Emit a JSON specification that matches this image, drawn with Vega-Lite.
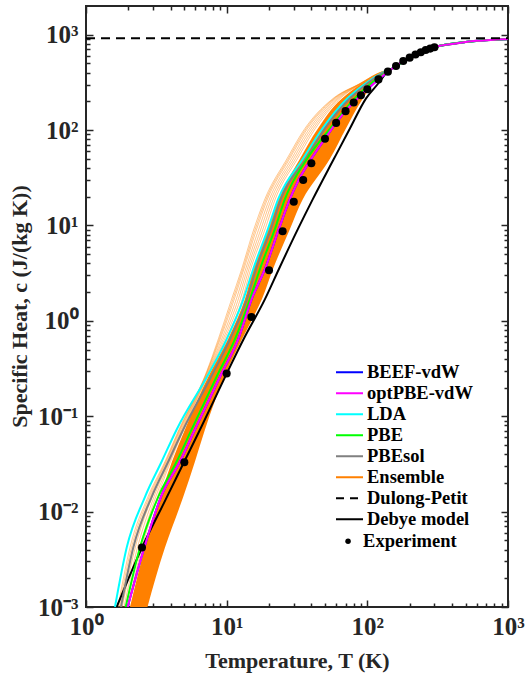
{
  "$schema": "https://vega.github.io/schema/vega-lite/v6.json",
  "width": 422,
  "height": 601,
  "autosize": "none",
  "padding": {"left": 86, "top": 6, "right": 18, "bottom": 74},
  "background": "white",
  "config": {
    "view": {"stroke": "#262626", "strokeWidth": 2},
    "axis": {
      "domain": false, "grid": false, "tickColor": "#262626", "tickWidth": 1.5,
      "labelFont": "Liberation Serif", "labelFontWeight": "bold", "labelFontSize": 25, "labelColor": "#262626",
      "titleFont": "Liberation Serif", "titleFontWeight": "bold", "titleFontSize": 22, "titleColor": "#262626",
      "labelFlush": false
    },
    "legend": {
      "labelFont": "Liberation Serif", "labelFontWeight": "bold", "labelFontSize": 18.5, "labelColor": "#000000", "labelLimit": 300,
      "clipHeight": 20.4, "rowPadding": 0, "padding": 0
    }
  },
  "datasets": {
    "thin": [
      {"line":0,"T":1.688,"c":0.001},{"line":0,"T":2.055,"c":0.0042},{"line":0,"T":2.759,"c":0.0143},{"line":0,"T":3.643,"c":0.0335},{"line":0,"T":4.581,"c":0.0727},{"line":0,"T":7.128,"c":0.282},{"line":0,"T":8.716,"c":0.642},{"line":0,"T":10.85,"c":1.69},{"line":0,"T":12.79,"c":3.5},{"line":0,"T":15.63,"c":9.2},{"line":0,"T":18.72,"c":19},{"line":0,"T":26.83,"c":50},{"line":0,"T":36.02,"c":104},{"line":0,"T":56.96,"c":214},{"line":0,"T":88.6,"c":308},{"line":0,"T":119,"c":393},{"line":0,"T":150,"c":440},
      {"line":1,"T":1.721,"c":0.001},{"line":1,"T":2.106,"c":0.0042},{"line":1,"T":2.814,"c":0.0143},{"line":1,"T":3.685,"c":0.0335},{"line":1,"T":4.626,"c":0.0727},{"line":1,"T":7.175,"c":0.282},{"line":1,"T":8.855,"c":0.642},{"line":1,"T":11.09,"c":1.69},{"line":1,"T":13.03,"c":3.5},{"line":1,"T":15.99,"c":9.2},{"line":1,"T":19.12,"c":19},{"line":1,"T":27.41,"c":50},{"line":1,"T":36.79,"c":104},{"line":1,"T":57.8,"c":214},{"line":1,"T":89.0,"c":308},{"line":1,"T":119.5,"c":393},{"line":1,"T":150,"c":440},
      {"line":2,"T":1.756,"c":0.001},{"line":2,"T":2.158,"c":0.0042},{"line":2,"T":2.87,"c":0.0143},{"line":2,"T":3.728,"c":0.0335},{"line":2,"T":4.672,"c":0.0727},{"line":2,"T":7.222,"c":0.282},{"line":2,"T":8.997,"c":0.642},{"line":2,"T":11.33,"c":1.69},{"line":2,"T":13.27,"c":3.5},{"line":2,"T":16.36,"c":9.2},{"line":2,"T":19.53,"c":19},{"line":2,"T":28.0,"c":50},{"line":2,"T":37.59,"c":104},{"line":2,"T":58.66,"c":214},{"line":2,"T":89.4,"c":308},{"line":2,"T":120,"c":393},{"line":2,"T":150,"c":440},
      {"line":3,"T":1.808,"c":0.001},{"line":3,"T":2.239,"c":0.0042},{"line":3,"T":2.955,"c":0.0143},{"line":3,"T":3.792,"c":0.0335},{"line":3,"T":4.741,"c":0.0727},{"line":3,"T":7.293,"c":0.282},{"line":3,"T":9.214,"c":0.642},{"line":3,"T":11.71,"c":1.69},{"line":3,"T":13.65,"c":3.5},{"line":3,"T":16.93,"c":9.2},{"line":3,"T":20.17,"c":19},{"line":3,"T":28.9,"c":50},{"line":3,"T":38.8,"c":104},{"line":3,"T":59.97,"c":214},{"line":3,"T":90.0,"c":308},{"line":3,"T":120.7,"c":393},{"line":3,"T":150,"c":440},
      {"line":4,"T":1.863,"c":0.001},{"line":4,"T":2.323,"c":0.0042},{"line":4,"T":3.044,"c":0.0143},{"line":4,"T":3.858,"c":0.0335},{"line":4,"T":4.811,"c":0.0727},{"line":4,"T":7.365,"c":0.282},{"line":4,"T":9.436,"c":0.642},{"line":4,"T":12.1,"c":1.69},{"line":4,"T":14.03,"c":3.5},{"line":4,"T":17.53,"c":9.2},{"line":4,"T":20.82,"c":19},{"line":4,"T":29.84,"c":50},{"line":4,"T":40.06,"c":104},{"line":4,"T":61.32,"c":214},{"line":4,"T":90.5,"c":308},{"line":4,"T":121.3,"c":393},{"line":4,"T":150,"c":440},
      {"line":5,"T":1.918,"c":0.001},{"line":5,"T":2.411,"c":0.0042},{"line":5,"T":3.134,"c":0.0143},{"line":5,"T":3.924,"c":0.0335},{"line":5,"T":4.883,"c":0.0727},{"line":5,"T":7.438,"c":0.282},{"line":5,"T":9.662,"c":0.642},{"line":5,"T":12.5,"c":1.69},{"line":5,"T":14.42,"c":3.5},{"line":5,"T":18.14,"c":9.2},{"line":5,"T":21.5,"c":19},{"line":5,"T":30.81,"c":50},{"line":5,"T":41.37,"c":104},{"line":5,"T":62.68,"c":214},{"line":5,"T":91.0,"c":308},{"line":5,"T":122,"c":393},{"line":5,"T":150,"c":440},
      {"line":6,"T":1.975,"c":0.001},{"line":6,"T":2.501,"c":0.0042},{"line":6,"T":3.228,"c":0.0143},{"line":6,"T":3.993,"c":0.0335},{"line":6,"T":4.955,"c":0.0727},{"line":6,"T":7.511,"c":0.282},{"line":6,"T":9.894,"c":0.642},{"line":6,"T":12.92,"c":1.69},{"line":6,"T":14.83,"c":3.5},{"line":6,"T":18.77,"c":9.2},{"line":6,"T":22.19,"c":19},{"line":6,"T":31.81,"c":50},{"line":6,"T":42.7,"c":104},{"line":6,"T":64.09,"c":214},{"line":6,"T":91.4,"c":308},{"line":6,"T":122.5,"c":393},{"line":6,"T":150,"c":440}
    ],
    "band": [
      {"c":0.001,"Tl":2.055,"Tr":2.736},{"c":0.0042,"Tl":2.627,"Tr":3.643},{"c":0.0143,"Tl":3.357,"Tr":4.915},{"c":0.0335,"Tl":4.086,"Tr":5.953},{"c":0.0727,"Tl":5.053,"Tr":7.013},{"c":0.282,"Tl":7.607,"Tr":9.886},{"c":0.642,"Tl":10.21,"Tr":12.85},{"c":1.69,"Tl":13.49,"Tr":17.82},{"c":3.5,"Tl":15.38,"Tr":21.34},{"c":9.2,"Tl":19.66,"Tr":28.18},{"c":19,"Tl":23.15,"Tr":34.85},{"c":50,"Tl":33.19,"Tr":54.24},{"c":104,"Tl":44.56,"Tr":70.45},{"c":214,"Tl":65.99,"Tr":93.05},{"c":308,"Tl":91.54,"Tr":111.4},{"c":393,"Tl":122.9,"Tr":131.2},{"c":440,"Tl":148,"Tr":152}
    ],
    "curves": [
      {"series":"Debye model","T":1.652,"c":0.001},{"series":"Debye model","T":2.5,"c":0.0042},{"series":"Debye model","T":3.6,"c":0.0125},{"series":"Debye model","T":5,"c":0.0335},{"series":"Debye model","T":6.6,"c":0.077},{"series":"Debye model","T":10.0,"c":0.28},{"series":"Debye model","T":13.1,"c":0.63},{"series":"Debye model","T":18.72,"c":1.69},{"series":"Debye model","T":23.53,"c":3.5},{"series":"Debye model","T":32.13,"c":9.2},{"series":"Debye model","T":41.06,"c":19},{"series":"Debye model","T":57.88,"c":50},{"series":"Debye model","T":75.19,"c":104},{"series":"Debye model","T":97.7,"c":214},{"series":"Debye model","T":119.5,"c":308},{"series":"Debye model","T":135.6,"c":393},{"series":"Debye model","T":160,"c":468},{"series":"Debye model","T":200,"c":575},{"series":"Debye model","T":300,"c":740},{"series":"Debye model","T":400,"c":800},{"series":"Debye model","T":500,"c":838},{"series":"Debye model","T":600,"c":862},{"series":"Debye model","T":700,"c":877},{"series":"Debye model","T":800,"c":888},{"series":"Debye model","T":1000,"c":901},

      {"series":"BEEF-vdW","T":1.979,"c":0.001},{"series":"BEEF-vdW","T":2.596,"c":0.0042},{"series":"BEEF-vdW","T":3.412,"c":0.0143},{"series":"BEEF-vdW","T":4.658,"c":0.0335},{"series":"BEEF-vdW","T":5.953,"c":0.0727},{"series":"BEEF-vdW","T":9.215,"c":0.282},{"series":"BEEF-vdW","T":12.09,"c":0.642},{"series":"BEEF-vdW","T":15.06,"c":1.69},{"series":"BEEF-vdW","T":18.72,"c":3.5},{"series":"BEEF-vdW","T":23.53,"c":9.2},{"series":"BEEF-vdW","T":28.18,"c":19},{"series":"BEEF-vdW","T":32.5,"c":30},{"series":"BEEF-vdW","T":38.2,"c":45},{"series":"BEEF-vdW","T":50,"c":81},{"series":"BEEF-vdW","T":60,"c":119},{"series":"BEEF-vdW","T":70,"c":158},{"series":"BEEF-vdW","T":80,"c":195},{"series":"BEEF-vdW","T":90,"c":232},{"series":"BEEF-vdW","T":100,"c":268},{"series":"BEEF-vdW","T":120,"c":340},{"series":"BEEF-vdW","T":140,"c":410},{"series":"BEEF-vdW","T":160,"c":470},{"series":"BEEF-vdW","T":200,"c":575},{"series":"BEEF-vdW","T":300,"c":740},{"series":"BEEF-vdW","T":500,"c":838},{"series":"BEEF-vdW","T":1000,"c":901},

      {"series":"optPBE-vdW","T":1.979,"c":0.001},{"series":"optPBE-vdW","T":2.596,"c":0.0042},{"series":"optPBE-vdW","T":3.412,"c":0.0143},{"series":"optPBE-vdW","T":4.658,"c":0.0335},{"series":"optPBE-vdW","T":5.953,"c":0.0727},{"series":"optPBE-vdW","T":9.215,"c":0.282},{"series":"optPBE-vdW","T":12.09,"c":0.642},{"series":"optPBE-vdW","T":15.06,"c":1.69},{"series":"optPBE-vdW","T":18.72,"c":3.5},{"series":"optPBE-vdW","T":23.53,"c":9.2},{"series":"optPBE-vdW","T":28.18,"c":19},{"series":"optPBE-vdW","T":32.5,"c":30},{"series":"optPBE-vdW","T":38.2,"c":45},{"series":"optPBE-vdW","T":50,"c":81},{"series":"optPBE-vdW","T":60,"c":119},{"series":"optPBE-vdW","T":70,"c":158},{"series":"optPBE-vdW","T":80,"c":195},{"series":"optPBE-vdW","T":90,"c":232},{"series":"optPBE-vdW","T":100,"c":268},{"series":"optPBE-vdW","T":120,"c":340},{"series":"optPBE-vdW","T":140,"c":410},{"series":"optPBE-vdW","T":160,"c":470},{"series":"optPBE-vdW","T":180,"c":530},{"series":"optPBE-vdW","T":200,"c":575},{"series":"optPBE-vdW","T":220,"c":620},{"series":"optPBE-vdW","T":240,"c":655},{"series":"optPBE-vdW","T":260,"c":690},{"series":"optPBE-vdW","T":280,"c":715},{"series":"optPBE-vdW","T":300,"c":740},{"series":"optPBE-vdW","T":400,"c":800},{"series":"optPBE-vdW","T":500,"c":838},{"series":"optPBE-vdW","T":600,"c":862},{"series":"optPBE-vdW","T":700,"c":877},{"series":"optPBE-vdW","T":800,"c":888},{"series":"optPBE-vdW","T":1000,"c":901},

      {"series":"LDA","T":1.607,"c":0.001},{"series":"LDA","T":1.947,"c":0.0042},{"series":"LDA","T":2.627,"c":0.0143},{"series":"LDA","T":3.451,"c":0.0335},{"series":"LDA","T":4.413,"c":0.0727},{"series":"LDA","T":7.484,"c":0.282},{"series":"LDA","T":10.0,"c":0.642},{"series":"LDA","T":13.16,"c":1.69},{"series":"LDA","T":15.45,"c":3.5},{"series":"LDA","T":19.66,"c":9.2},{"series":"LDA","T":23.27,"c":19},{"series":"LDA","T":34.85,"c":50},{"series":"LDA","T":48,"c":104},{"series":"LDA","T":72,"c":214},{"series":"LDA","T":97,"c":308},{"series":"LDA","T":126,"c":393},{"series":"LDA","T":150,"c":440},{"series":"LDA","T":200,"c":575},{"series":"LDA","T":300,"c":740},{"series":"LDA","T":500,"c":838},{"series":"LDA","T":1000,"c":901},

      {"series":"PBEsol","T":1.773,"c":0.001},{"series":"PBEsol","T":2.169,"c":0.0042},{"series":"PBEsol","T":2.931,"c":0.0143},{"series":"PBEsol","T":3.846,"c":0.0335},{"series":"PBEsol","T":4.915,"c":0.0727},{"series":"PBEsol","T":7.991,"c":0.282},{"series":"PBEsol","T":10.56,"c":0.642},{"series":"PBEsol","T":13.94,"c":1.69},{"series":"PBEsol","T":16.16,"c":3.5},{"series":"PBEsol","T":20.65,"c":9.2},{"series":"PBEsol","T":24.31,"c":19},{"series":"PBEsol","T":36.61,"c":50},{"series":"PBEsol","T":50,"c":104},{"series":"PBEsol","T":75,"c":214},{"series":"PBEsol","T":100,"c":308},{"series":"PBEsol","T":128,"c":393},{"series":"PBEsol","T":150,"c":440},{"series":"PBEsol","T":200,"c":575},{"series":"PBEsol","T":300,"c":740},{"series":"PBEsol","T":500,"c":838},{"series":"PBEsol","T":1000,"c":901},

      {"series":"PBE","T":1.915,"c":0.001},{"series":"PBE","T":2.42,"c":0.0042},{"series":"PBE","T":3.265,"c":0.0143},{"series":"PBE","T":4.413,"c":0.0335},{"series":"PBE","T":5.639,"c":0.0727},{"series":"PBE","T":8.715,"c":0.282},{"series":"PBE","T":11.46,"c":0.642},{"series":"PBE","T":14.64,"c":1.69},{"series":"PBE","T":17.25,"c":3.5},{"series":"PBE","T":22.04,"c":9.2},{"series":"PBE","T":25.97,"c":19},{"series":"PBE","T":37.3,"c":50},{"series":"PBE","T":54.5,"c":104},{"series":"PBE","T":81,"c":214},{"series":"PBE","T":106,"c":308},{"series":"PBE","T":133,"c":393},{"series":"PBE","T":150,"c":440},{"series":"PBE","T":200,"c":575},{"series":"PBE","T":300,"c":740},{"series":"PBE","T":500,"c":838},{"series":"PBE","T":1000,"c":901}
    ],
    "dp": [{"T":1,"c":920},{"T":1000,"c":920}],
    "exp": [
      {"T":2.5,"c":0.0042},{"T":5,"c":0.033},{"T":10,"c":0.28},{"T":15,"c":1.1},{"T":20,"c":3.4},{"T":25,"c":8.7},{"T":30,"c":17.7},{"T":35,"c":30},{"T":40,"c":45},{"T":50,"c":81},{"T":60,"c":119},{"T":70,"c":158},{"T":80,"c":195},{"T":90,"c":232},{"T":100,"c":268},{"T":120,"c":340},{"T":140,"c":410},{"T":160,"c":470},{"T":180,"c":530},{"T":200,"c":575},{"T":220,"c":620},{"T":240,"c":655},{"T":260,"c":690},{"T":280,"c":715},{"T":300,"c":740}
    ]
  },
  "resolve": {"axis": {"x": "independent", "y": "independent"}},
  "layer": [
    {
      "data": {"name": "thin"},
      "mark": {"type": "line", "strokeWidth": 0.6, "opacity": 0.8, "clip": true, "interpolate": "monotone"},
      "encoding": {
        "x": {"field": "T", "type": "quantitative", "scale": {"type": "log", "domain": [1, 1000], "nice": false},
          "axis": {"orient": "bottom", "values": [1, 10, 100, 1000], "tickSize": -7, "labelPadding": 14,
            "labelExpr": "'10' + ['⁰','¹','²','³'][round(log(datum.value)/LN10)]",
            "title": "Temperature,  T (K)", "titleY": 43, "titleBaseline": "top"}},
        "y": {"field": "c", "type": "quantitative", "scale": {"type": "log", "domain": [0.001, 2000], "nice": false},
          "axis": {"orient": "left", "values": [0.001, 0.01, 0.1, 1, 10, 100, 1000], "tickSize": -7, "labelPadding": 15,
            "labelExpr": "'10' + ['⁻³','⁻²','⁻¹','⁰','¹','²','³'][round(log(datum.value)/LN10)+3]",
            "title": "Specific Heat,  c (J/(kg K))", "titleX": -55, "titleY": 300, "titleBaseline": "bottom", "titleAlign": "center", "titleAngle": -90}},
        "detail": {"field": "line", "type": "nominal"},
        "color": {"datum": "Ensemble", "type": "nominal", "title": null,
          "scale": {"domain": ["BEEF-vdW", "optPBE-vdW", "LDA", "PBE", "PBEsol", "Ensemble", "Dulong-Petit", "Debye model"],
                    "range": ["#0000ff", "#ff00ff", "#00ffff", "#00ff00", "#808080", "#ff8000", "#000000", "#000000"]},
          "legend": {"title": null, "orient": "none", "legendX": 249, "legendY": 356,
            "symbolType": "stroke", "symbolSize": 729, "symbolStrokeWidth": 2, "symbolOpacity": 1, "labelOffset": 3}},
        "strokeDash": {"datum": "Ensemble", "type": "nominal", "title": null,
          "scale": {"domain": ["BEEF-vdW", "optPBE-vdW", "LDA", "PBE", "PBEsol", "Ensemble", "Dulong-Petit", "Debye model"],
                    "range": [[1, 0], [1, 0], [1, 0], [1, 0], [1, 0], [1, 0], [8, 6], [1, 0]]},
          "legend": {"title": null, "orient": "none", "legendX": 249, "legendY": 356,
            "symbolType": "stroke", "symbolSize": 729, "symbolStrokeWidth": 2, "symbolOpacity": 1, "labelOffset": 3}}
      }
    },
    {
      "data": {"name": "band"},
      "mark": {"type": "area", "orient": "horizontal", "clip": true, "opacity": 1, "interpolate": "monotone"},
      "encoding": {
        "y": {"field": "c", "type": "quantitative", "scale": {"type": "log", "domain": [0.001, 2000], "nice": false},
          "axis": {"orient": "left", "labels": false, "title": null, "tickSize": -4,
            "values": [0.002,0.003,0.004,0.005,0.006,0.007,0.008,0.009,0.02,0.03,0.04,0.05,0.06,0.07,0.08,0.09,0.2,0.3,0.4,0.5,0.6,0.7,0.8,0.9,2,3,4,5,6,7,8,9,20,30,40,50,60,70,80,90,200,300,400,500,600,700,800,900]}},
        "x": {"field": "Tl", "type": "quantitative", "scale": {"type": "log", "domain": [1, 1000], "nice": false},
          "axis": {"orient": "bottom", "labels": false, "title": null, "tickSize": -4,
            "values": [2,3,4,5,6,7,8,9,20,30,40,50,60,70,80,90,200,300,400,500,600,700,800,900]}},
        "x2": {"field": "Tr"},
        "color": {"datum": "Ensemble", "type": "nominal", "legend": null}
      }
    },
    {
      "data": {"name": "curves"},
      "transform": [{"filter": "datum.series === 'Debye model'"}],
      "mark": {"type": "line", "strokeWidth": 2, "clip": true, "interpolate": "monotone"},
      "encoding": {
        "x": {"field": "T", "type": "quantitative", "scale": {"type": "log", "domain": [1, 1000], "nice": false},
          "axis": {"orient": "top", "labels": false, "title": null, "tickSize": -7, "values": [1, 10, 100, 1000]}},
        "y": {"field": "c", "type": "quantitative", "scale": {"type": "log", "domain": [0.001, 2000], "nice": false},
          "axis": {"orient": "right", "labels": false, "title": null, "tickSize": -7, "values": [0.001, 0.01, 0.1, 1, 10, 100, 1000]}},
        "color": {"field": "series", "type": "nominal", "legend": null}
      }
    },
    {
      "data": {"name": "curves"},
      "transform": [{"filter": "datum.series === 'BEEF-vdW'"}],
      "mark": {"type": "line", "strokeWidth": 2, "clip": true, "interpolate": "monotone"},
      "encoding": {
        "x": {"field": "T", "type": "quantitative", "scale": {"type": "log", "domain": [1, 1000], "nice": false},
          "axis": {"orient": "top", "labels": false, "title": null, "tickSize": -4,
            "values": [2,3,4,5,6,7,8,9,20,30,40,50,60,70,80,90,200,300,400,500,600,700,800,900]}},
        "y": {"field": "c", "type": "quantitative", "scale": {"type": "log", "domain": [0.001, 2000], "nice": false},
          "axis": {"orient": "right", "labels": false, "title": null, "tickSize": -4,
            "values": [0.002,0.003,0.004,0.005,0.006,0.007,0.008,0.009,0.02,0.03,0.04,0.05,0.06,0.07,0.08,0.09,0.2,0.3,0.4,0.5,0.6,0.7,0.8,0.9,2,3,4,5,6,7,8,9,20,30,40,50,60,70,80,90,200,300,400,500,600,700,800,900]}},
        "color": {"field": "series", "type": "nominal", "legend": null}
      }
    },
    {
      "data": {"name": "curves"},
      "transform": [{"filter": "datum.series === 'LDA'"}],
      "mark": {"type": "line", "strokeWidth": 2, "clip": true, "interpolate": "monotone"},
      "encoding": {
        "x": {"field": "T", "type": "quantitative", "scale": {"type": "log", "domain": [1, 1000], "nice": false}, "axis": null},
        "y": {"field": "c", "type": "quantitative", "scale": {"type": "log", "domain": [0.001, 2000], "nice": false}, "axis": null},
        "color": {"field": "series", "type": "nominal", "legend": null}
      }
    },
    {
      "data": {"name": "curves"},
      "transform": [{"filter": "datum.series === 'PBEsol'"}],
      "mark": {"type": "line", "strokeWidth": 2, "clip": true, "interpolate": "monotone"},
      "encoding": {
        "x": {"field": "T", "type": "quantitative", "scale": {"type": "log", "domain": [1, 1000], "nice": false}, "axis": null},
        "y": {"field": "c", "type": "quantitative", "scale": {"type": "log", "domain": [0.001, 2000], "nice": false}, "axis": null},
        "color": {"field": "series", "type": "nominal", "legend": null}
      }
    },
    {
      "data": {"name": "curves"},
      "transform": [{"filter": "datum.series === 'PBE'"}],
      "mark": {"type": "line", "strokeWidth": 2, "clip": true, "interpolate": "monotone"},
      "encoding": {
        "x": {"field": "T", "type": "quantitative", "scale": {"type": "log", "domain": [1, 1000], "nice": false}, "axis": null},
        "y": {"field": "c", "type": "quantitative", "scale": {"type": "log", "domain": [0.001, 2000], "nice": false}, "axis": null},
        "color": {"field": "series", "type": "nominal", "legend": null}
      }
    },
    {
      "data": {"name": "curves"},
      "transform": [{"filter": "datum.series === 'optPBE-vdW'"}],
      "mark": {"type": "line", "strokeWidth": 2, "clip": true, "interpolate": "monotone"},
      "encoding": {
        "x": {"field": "T", "type": "quantitative", "scale": {"type": "log", "domain": [1, 1000], "nice": false}, "axis": null},
        "y": {"field": "c", "type": "quantitative", "scale": {"type": "log", "domain": [0.001, 2000], "nice": false}, "axis": null},
        "color": {"field": "series", "type": "nominal", "legend": null}
      }
    },
    {
      "data": {"name": "dp"},
      "mark": {"type": "line", "strokeWidth": 2, "strokeDash": [9, 6], "clip": true},
      "encoding": {
        "x": {"field": "T", "type": "quantitative", "scale": {"type": "log", "domain": [1, 1000], "nice": false}, "axis": null},
        "y": {"field": "c", "type": "quantitative", "scale": {"type": "log", "domain": [0.001, 2000], "nice": false}, "axis": null},
        "color": {"datum": "Dulong-Petit", "type": "nominal", "legend": null}
      }
    },
    {
      "data": {"name": "exp"},
      "mark": {"type": "point", "filled": true, "size": 65, "opacity": 1, "clip": true, "color": "#000000"},
      "encoding": {
        "x": {"field": "T", "type": "quantitative", "scale": {"type": "log", "domain": [1, 1000], "nice": false}, "axis": null},
        "y": {"field": "c", "type": "quantitative", "scale": {"type": "log", "domain": [0.001, 2000], "nice": false}, "axis": null},
        "shape": {"datum": "Experiment", "type": "nominal", "title": null,
          "scale": {"domain": ["Experiment"], "range": ["circle"]},
          "legend": {"title": null, "orient": "none", "legendX": 252.8, "legendY": 525, "symbolSize": 30,
            "symbolFillColor": "#000000", "symbolStrokeColor": "#000000", "symbolStrokeWidth": 0, "symbolOpacity": 1, "labelOffset": 5.8}}
      }
    }
  ]
}
